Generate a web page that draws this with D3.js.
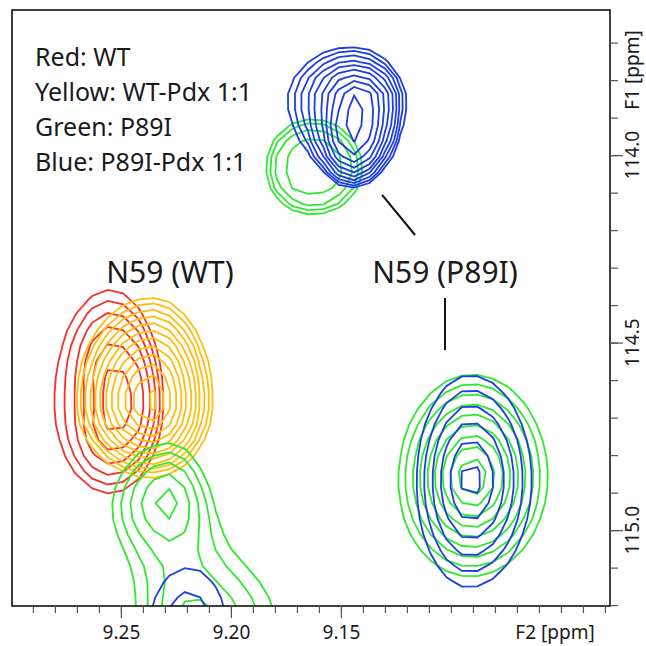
<!DOCTYPE html>
<html>
<head>
<meta charset="utf-8">
<script src="https://cdn.jsdelivr.net/npm/d3@7"></script>
<style>
  body { margin: 0; background: #fff; }
  svg text { font-family: "Noto Sans", "Open Sans", sans-serif; fill: #1a1a1a; }
</style>
</head>
<body>
<svg id="chart" width="646" height="646"></svg>
<script>
const W = 646, H = 646;
const frame = {left: 12, right: 610, top: 10, bottom: 606};

// axis ranges (ppm) and labelled ticks
const xDomain = [9.2995, 9.0277];
const yDomain = [113.613, 115.2023];
const xTickLabels = [9.25, 9.20, 9.15];
const yTickLabels = [114.0, 114.5, 115.0];

// contour levels (same for all four spectra)
const levels = [1, 1.2, 1.44, 1.728, 2.074, 2.488, 2.986, 3.583, 4.3, 5.16, 6.19, 7.43, 8.92, 10.7];

// peaks: [F2 ppm, F1 ppm, height, extent left, right, up, down (ppm, lowest level), shape left, right, up, down]
const redPeaks = [
  [9.2550, 114.661, 2.73, 0.0250, 0.0241, 0.301, 0.240, 1, 3, 2, 2]
];
const yellowPeaks = [
  [9.2359, 114.658, 8.14, 0.0341, 0.0273, 0.277, 0.200, 1.5, 1.3, 1.5, 1.5]
];
const greenPeaks = [
  [9.1632, 114.034, 1.89, 0.0210, 0.0230, 0.130, 0.125, 4, 4, 4, 4],
  [9.0904, 114.858, 5.65, 0.0327, 0.0341, 0.272, 0.261, 1.1, 1.1, 1.1, 1.1],
  [9.2286, 114.920, 1.9, 0.0205, 0.0136, 0.133, 0.107, 1.5, 1.5, 1.5, 1.5],
  [9.2159, 115.261, 1.9, 0.0255, 0.0355, 0.192, 0.160, 1.5, 1.5, 1.5, 1.5]
];
const bluePeaks = [
  [9.1450, 113.853, 5.65, 0.0286, 0.0241, 0.139, 0.232, 1, 2, 1.3, 4],
  [9.0913, 114.866, 2.73, 0.0227, 0.0273, 0.272, 0.275, 1.3, 1.3, 1.3, 1.3],
  [9.2195, 115.261, 1.58, 0.0173, 0.0173, 0.160, 0.160, 1, 1, 1, 1]
];

const legendLines = ["Red: WT", "Yellow: WT-Pdx 1:1", "Green: P89I", "Blue: P89I-Pdx 1:1"];
const peakLabels = [
  {text: "N59 (WT)", x: 9.2277, y: 114.341},
  {text: "N59 (P89I)", x: 9.1027, y: 114.341}
];
const leaders = [
  [[9.1313, 114.106], [9.1163, 114.213]],
  [[9.1027, 114.381], [9.1027, 114.520]]
];

const spectra = [
  {peaks: redPeaks, color: "#f52f2b"},
  {peaks: yellowPeaks, color: "#ffbe0b"},
  {peaks: greenPeaks, color: "#30e830"},
  {peaks: bluePeaks, color: "#1e3ee2"}
];

const svg = d3.select("#chart");

const x = d3.scaleLinear().domain(xDomain).range([frame.left, frame.right]);
const y = d3.scaleLinear().domain(yDomain).range([frame.top, frame.bottom]);

// coarse grid (like the spectrum's digital resolution), a bit bigger than the frame
const grid = {x0: 9.340, x1: 8.997, y0: 113.50, y1: 115.60, nx: 50, ny: 51};
const sx = (grid.x1 - grid.x0) / (grid.nx - 1);
const sy = (grid.y1 - grid.y0) / (grid.ny - 1);

function peakValue(pk, px, py) {
  const [cx, cy, a, eL, eR, eU, eD, pL, pR, pU, pD] = pk;
  const base = Math.log(a / levels[0]);
  const left = px > cx, up = py < cy;
  const pH = left ? pL : pR, pV = up ? pU : pD;
  const wH = (left ? eL : eR) / Math.pow(base, 1 / pH);
  const wV = (up ? eU : eD) / Math.pow(base, 1 / pV);
  const u = Math.abs(px - cx) / wH, v = Math.abs(py - cy) / wV;
  const r2 = u * u + v * v;
  if (r2 === 0) return a;
  const p = (pH * u * u + pV * v * v) / r2;
  return a * Math.exp(-Math.pow(Math.sqrt(r2), p));
}

function field(peaks) {
  const vals = new Float64Array(grid.nx * grid.ny);
  for (let j = 0; j < grid.ny; j++) {
    for (let i = 0; i < grid.nx; i++) {
      const px = grid.x0 + i * sx, py = grid.y0 + j * sy;
      let s = 0;
      peaks.forEach(pk => { s += peakValue(pk, px, py); });
      vals[j * grid.nx + i] = s;
    }
  }
  return vals;
}

const toPx = d3.geoTransform({
  point: function(gx, gy) {
    this.stream.point(x(grid.x0 + (gx - 0.5) * sx), y(grid.y0 + (gy - 0.5) * sy));
  }
});
const path = d3.geoPath(toPx);

svg.append("defs").append("clipPath").attr("id", "clip")
  .append("rect")
  .attr("x", frame.left).attr("y", frame.top)
  .attr("width", frame.right - frame.left).attr("height", frame.bottom - frame.top);

const plot = svg.append("g").attr("clip-path", "url(#clip)");

spectra.forEach(sp => {
  const contours = d3.contours().size([grid.nx, grid.ny]).thresholds(levels)(field(sp.peaks));
  plot.append("g")
    .selectAll("path")
    .data(contours.filter(c => c.coordinates.length))
    .join("path")
    .attr("d", path)
    .attr("fill", "none")
    .attr("stroke", sp.color)
    .attr("stroke-width", 1.8)
    .attr("stroke-linejoin", "miter");
});

// frame
svg.append("rect")
  .attr("x", frame.left).attr("y", frame.top)
  .attr("width", frame.right - frame.left).attr("height", frame.bottom - frame.top)
  .attr("fill", "none").attr("stroke", "#111").attr("stroke-width", 1.6);

// x axis
const xMinor = d3.range(903, 930).map(d => d / 100);
const xAxisMinor = svg.append("g").attr("transform", `translate(0,${frame.bottom})`)
  .call(d3.axisBottom(x).tickValues(xMinor).tickSize(7).tickFormat(""));
const xAxisMajor = svg.append("g").attr("transform", `translate(0,${frame.bottom})`)
  .call(d3.axisBottom(x).tickValues(xTickLabels).tickSize(12).tickFormat(d3.format(".2f")));
[xAxisMinor, xAxisMajor].forEach(g => {
  g.select(".domain").remove();
  g.selectAll(".tick line").attr("stroke", "#555").attr("stroke-width", 1.2);
});
xAxisMajor.selectAll(".tick text")
  .attr("font-size", 19).attr("fill", "#1a1a1a").attr("y", 33).attr("dy", null);

svg.append("text").attr("x", 555).attr("y", 639).attr("text-anchor", "middle")
  .attr("font-size", 19).text("F2 [ppm]");

// y axis (right)
const yMinor = d3.range(1137, 1153).map(d => d / 10);
const yAxisMinor = svg.append("g").attr("transform", `translate(${frame.right},0)`)
  .call(d3.axisRight(y).tickValues(yMinor).tickSize(8).tickFormat(""));
const yAxisMajor = svg.append("g").attr("transform", `translate(${frame.right},0)`)
  .call(d3.axisRight(y).tickValues(yTickLabels).tickSize(13).tickFormat(""));
[yAxisMinor, yAxisMajor].forEach(g => {
  g.select(".domain").remove();
  g.selectAll(".tick line").attr("stroke", "#555").attr("stroke-width", 1.2);
});
svg.append("g").selectAll("text").data(yTickLabels).join("text")
  .attr("transform", d => `translate(632,${y(d)}) rotate(-90)`)
  .attr("text-anchor", "middle").attr("dy", "0.35em").attr("font-size", 19)
  .text(d3.format(".1f"));
svg.append("text")
  .attr("transform", `translate(632,70) rotate(-90)`)
  .attr("text-anchor", "middle").attr("dy", "0.35em").attr("font-size", 19)
  .text("F1 [ppm]");

// legend
svg.append("g").selectAll("text").data(legendLines).join("text")
  .attr("x", 35).attr("y", (d, i) => 66 + i * 35)
  .attr("font-size", 25)
  .text(d => d);

// peak labels and leader lines
svg.append("g").selectAll("text").data(peakLabels).join("text")
  .attr("x", d => x(d.x)).attr("y", d => y(d.y))
  .attr("text-anchor", "middle").attr("font-size", 30)
  .text(d => d.text);
svg.append("g").selectAll("line").data(leaders).join("line")
  .attr("x1", d => x(d[0][0])).attr("y1", d => y(d[0][1]))
  .attr("x2", d => x(d[1][0])).attr("y2", d => y(d[1][1]))
  .attr("stroke", "#111").attr("stroke-width", 2);
</script>
</body>
</html>
